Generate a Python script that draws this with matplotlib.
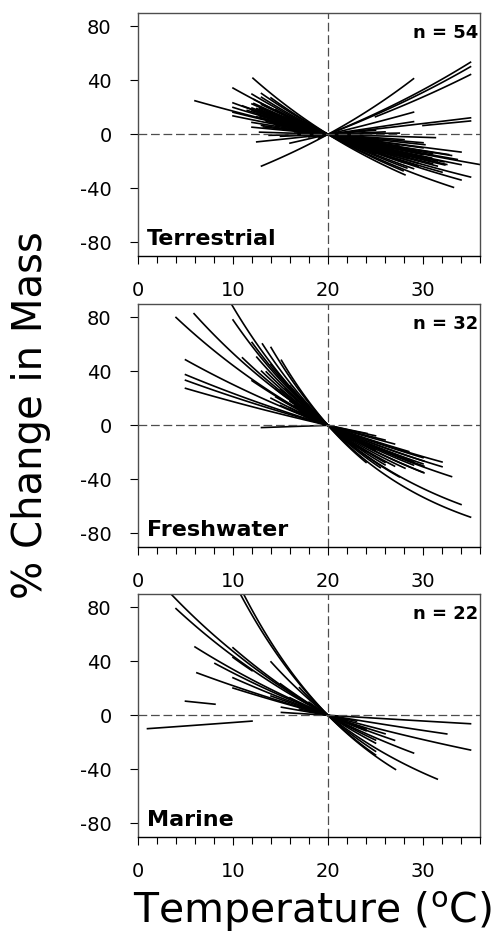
import matplotlib
matplotlib.use('Agg')
import matplotlib.pyplot as plt
import numpy as np
from matplotlib.ticker import MultipleLocator

plt.rcParams['font.family'] = ['DejaVu Sans']
plt.rcParams['axes.unicode_minus'] = False

# ---- data: each line = one species, temperature range + % change per degC ----
terr_t_lo = [12.1, 13.0, 12.5, 16.0, 19.0, 19.5, 25.0, 30.0, 12.8, 6.0,
             10.0, 10.0, 10.0, 10.0, 10.0, 13.0, 12.0, 14.0, 12.5, 12.0,
             12.0, 13.5, 12.8, 12.5, 13.0, 12.5, 13.0, 12.8, 14.0, 13.5,
             12.2, 15.0, 14.5, 13.0, 16.5, 17.0, 13.8, 15.0, 18.0, 14.5,
             12.0, 12.0, 11.0, 12.5, 13.2, 15.5, 16.0, 12.0, 13.0, 14.0,
             17.5, 18.0, 12.2, 11.5]
terr_t_hi = [28.1, 29.0, 35.0, 29.0, 35.0, 35.0, 35.0, 35.0, 31.3, 37.0,
             34.0, 32.3, 34.0, 33.6, 32.7, 33.2, 35.0, 27.9, 30.0, 30.0,
             30.0, 29.3, 30.9, 32.2, 28.3, 31.0, 29.5, 27.0, 30.5, 28.5,
             26.0, 31.5, 27.5, 25.5, 28.0, 33.0, 27.5, 26.0, 29.0, 25.0,
             29.0, 22.0, 28.5, 31.5, 30.2, 32.0, 29.5, 32.5, 26.5, 31.0,
             34.0, 25.0, 28.0, 30.0]
terr_rate = [-4.3, 3.9, 0.77, 1.7, 2.89, 2.74, 2.47, 0.63, -0.22, -1.57,
             -2.9, -2.07, -1.8, -1.5, -1.27, -3.7, -2.5, -3.9, -1.61, -1.05,
             -0.64, -1.4, -1.75, -1.85, -3.4, -2.2, -2.8, -2.4, -2.0, -2.3,
             -2.6, -1.9, -1.2, -0.9, -0.5, -1.3, 0.12, 0.3, 1.0, -3.0,
             -3.2, -2.2, -2.1, -2.3, -0.78, -2.7, -2.5, -2.0, -1.6, -1.4,
             -1.0, 0.6, -2.9, -1.9]

fresh_t_lo = [9.5, 14.0, 4.0, 5.9, 10.0, 5.0, 5.0, 5.0, 5.0, 13.1,
              13.0, 15.1, 14.0, 13.0, 19.5, 12.0, 14.5, 15.0, 16.0, 15.5,
              13.5, 16.5, 17.0, 14.0, 12.5, 16.0, 11.0, 15.0, 17.5, 12.0,
              16.0, 14.5]
fresh_t_hi = [34.0, 35.0, 33.0, 30.0, 26.0, 32.0, 27.0, 26.0, 25.0, 25.5,
              22.0, 24.0, 30.1, 20.0, 24.1, 30.1, 30.1, 28.1, 32.0, 26.0,
              27.0, 29.0, 30.0, 23.0, 24.0, 25.0, 22.5, 30.0, 28.5, 21.5,
              27.5, 29.0]
fresh_rate = [-6.1, -7.3, -3.6, -4.18, -5.6, -2.6, -2.1, -1.9, -1.6, -6.6,
              -4.7, -7.7, -3.0, 0.24, -1.5, -3.5, -4.2, -4.6, -3.0, -5.2,
              -5.0, -3.8, -3.3, -6.0, -5.3, -4.0, -4.4, -2.7, -2.5, -5.8,
              -6.2, -3.4]

mar_t_lo = [3.0, 4.0, 9.0, 10.0, 14.0, 6.0, 6.2, 8.1, 10.0, 10.0,
            10.0, 10.0, 5.0, 1.0, 15.1, 15.1, 15.0, 17.0, 16.0, 14.0,
            18.0, 17.0]
mar_t_hi = [23.0, 29.0, 25.0, 27.1, 31.5, 27.0, 35.0, 24.0, 25.0, 12.0,
            26.0, 22.0, 8.1, 12.0, 35.0, 32.5, 22.0, 25.0, 24.0, 21.0,
            25.0, 23.0]
mar_rate = [-3.8, -3.57, -6.7, -6.95, -5.4, -2.88, -1.96, -2.69, -3.97, -3.5,
            -2.42, -1.82, -0.66, 0.55, -0.43, -1.18, -4.1, -6.0, -3.0, -2.2,
            -4.5, -1.5]

panel_names = ['Terrestrial', 'Freshwater', 'Marine']
panel_data = [(terr_t_lo, terr_t_hi, terr_rate),
              (fresh_t_lo, fresh_t_hi, fresh_rate),
              (mar_t_lo, mar_t_hi, mar_rate)]

fig = plt.figure(figsize=(4.95, 9.36), dpi=100)

left, width, height = 0.2788, 0.6909, 0.2600
bottoms = [0.7265, 0.4156, 0.1058]

for name, (t_lo, t_hi, rate), b in zip(panel_names, panel_data, bottoms):
    ax = fig.add_axes([left, b, width, height])

    # % change in mass relative to 20 degC
    for lo, hi, r in zip(t_lo, t_hi, rate):
        t = np.linspace(lo, hi, 80)
        ax.plot(t, 100 * ((1 + r / 100) ** (t - 20) - 1), color='black', lw=1.2)

    ax.axhline(0, color='0.3', lw=0.9, dashes=(7, 3))
    ax.axvline(20, color='0.3', lw=0.9, dashes=(7, 3))

    ax.set_xlim(0, 36)
    ax.set_ylim(-90, 90)
    ax.set_yticks([-80, -40, 0, 40, 80])
    ax.set_xticks([0, 10, 20, 30])
    ax.xaxis.set_minor_locator(MultipleLocator(2))
    ax.tick_params(axis='x', which='major', direction='out', length=6, width=0.8,
                   labelsize=14, pad=12)
    ax.tick_params(axis='x', which='minor', direction='out', length=5, width=0.8)
    ax.tick_params(axis='y', which='major', direction='out', length=6, width=0.8,
                   labelsize=14, pad=13)

    for s in ['top', 'right', 'left']:
        ax.spines[s].set_color('0.3')
        ax.spines[s].set_linewidth(1.0)
    ax.spines['bottom'].set_color('black')
    ax.spines['bottom'].set_linewidth(1.0)

    ax.text(0.994, 0.895, f'n = {len(rate)}', transform=ax.transAxes,
            ha='right', va='baseline', fontsize=13, fontweight='bold')
    ax.text(0.027, 0.045, name, transform=ax.transAxes,
            ha='left', va='baseline', fontsize=16, fontweight='bold')

fig.text(0.062, 0.557, '% Change in Mass', rotation=90, fontsize=29,
         ha='center', va='center')
fig.text(0.631, 0.0139, 'Temperature ($^{\\rm o}$C)', fontsize=29.5,
         ha='center', va='baseline')

fig.savefig('out.png', dpi=100)
